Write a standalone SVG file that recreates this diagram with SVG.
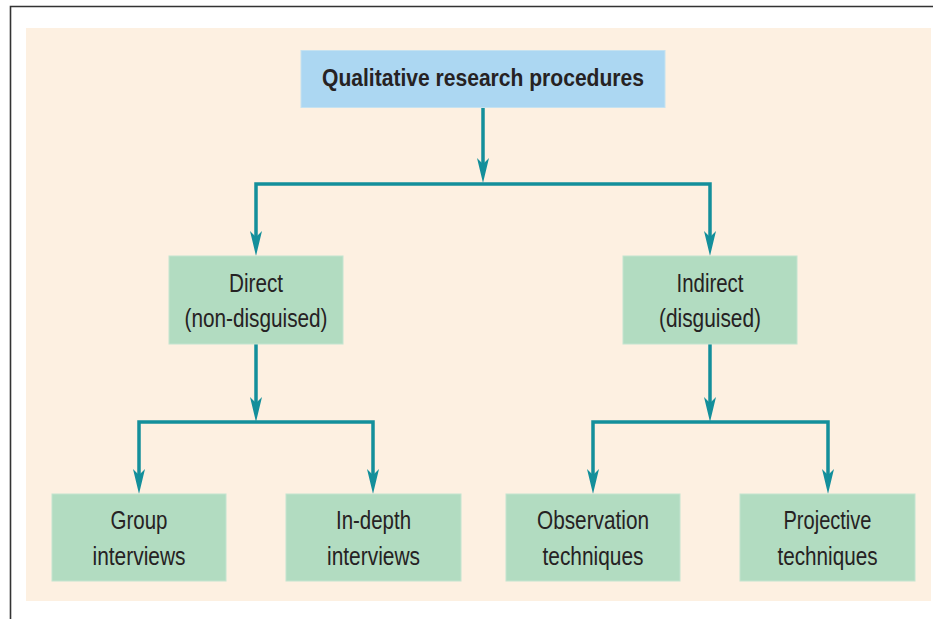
<svg xmlns="http://www.w3.org/2000/svg" width="933" height="619" viewBox="0 0 933 619">
<style>
.frame{fill:none;stroke:#333333;stroke-width:1.6}
.bg{fill:#fdf0e1}
.top rect{fill:#acd7f2;stroke:#c6e2f0;stroke-width:1}
.box rect{fill:#b2dcc1;stroke:#c4e4d0;stroke-width:1}
text{font-family:"Liberation Sans",Arial,sans-serif;fill:#262223;text-anchor:middle}
.t1{font-size:23.5px;font-weight:bold}
.t2{font-size:26.5px}
.conn path{fill:none;stroke:#138f9b;stroke-width:3.5;marker-end:url(#ah)}
.conn path.both{marker-start:url(#ah)}
</style>
<defs>
<marker id="ah" viewBox="-14 -7 27 14" refX="0" refY="0" markerWidth="27" markerHeight="14" markerUnits="userSpaceOnUse" orient="auto-start-reverse">
<path d="M12,0 L-13,-6 L-7,0 L-13,6 Z" fill="#138f9b"/>
</marker>
</defs>
<path class="frame" d="M10.5,619 V6.5 H933"/>
<rect class="bg" x="26" y="28" width="905" height="573"/>
<g class="conn">
<path d="M483,107 V171"/>
<path class="both" d="M256,244 V184 H710 V244"/>
<path d="M256,344 V410"/>
<path class="both" d="M139,482 V422 H373 V482"/>
<path d="M710,344 V410"/>
<path class="both" d="M593,482 V422 H828 V482"/>
</g>
<g id="qualitative" class="top">
<rect x="301" y="50.5" width="364" height="57"/>
<text class="t1" x="483" y="85.5" textLength="322" lengthAdjust="spacingAndGlyphs">Qualitative research procedures</text>
</g>
<g id="direct" class="box">
<rect x="169" y="256" width="174" height="88"/>
<text class="t2" x="256" y="292" textLength="54" lengthAdjust="spacingAndGlyphs">Direct</text>
<text class="t2" x="256" y="327" textLength="143" lengthAdjust="spacingAndGlyphs">(non-disguised)</text>
</g>
<g id="indirect" class="box">
<rect x="623" y="256" width="174" height="88"/>
<text class="t2" x="710" y="292" textLength="67" lengthAdjust="spacingAndGlyphs">Indirect</text>
<text class="t2" x="710" y="327" textLength="102" lengthAdjust="spacingAndGlyphs">(disguised)</text>
</g>
<g id="group" class="box">
<rect x="52" y="494" width="174" height="87"/>
<text class="t2" x="139" y="529" textLength="57" lengthAdjust="spacingAndGlyphs">Group</text>
<text class="t2" x="139" y="565" textLength="93" lengthAdjust="spacingAndGlyphs">interviews</text>
</g>
<g id="indepth" class="box">
<rect x="286" y="494" width="175" height="87"/>
<text class="t2" x="373.5" y="529" textLength="75" lengthAdjust="spacingAndGlyphs">In-depth</text>
<text class="t2" x="373.5" y="565" textLength="93" lengthAdjust="spacingAndGlyphs">interviews</text>
</g>
<g id="observation" class="box">
<rect x="506" y="494" width="174" height="87"/>
<text class="t2" x="593" y="529" textLength="112" lengthAdjust="spacingAndGlyphs">Observation</text>
<text class="t2" x="593" y="565" textLength="101" lengthAdjust="spacingAndGlyphs">techniques</text>
</g>
<g id="projective" class="box">
<rect x="740" y="494" width="175" height="87"/>
<text class="t2" x="827.5" y="529" textLength="88" lengthAdjust="spacingAndGlyphs">Projective</text>
<text class="t2" x="827.5" y="565" textLength="100" lengthAdjust="spacingAndGlyphs">techniques</text>
</g>
</svg>
